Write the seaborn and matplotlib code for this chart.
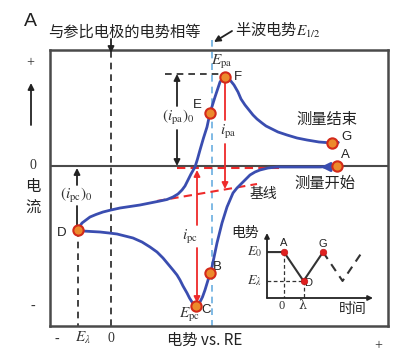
import matplotlib
matplotlib.use("Agg")
import matplotlib.pyplot as plt
import seaborn as sns

# forward (cathodic) scan A -> B -> C -> D
fwd_E = [2.26, 2.09, 1.89, 1.66, 1.57, 1.49, 1.44, 1.39, 1.35, 1.31, 1.26, 1.22, 1.19, 1.16, 1.11,
         1.06, 1.01, 0.94, 0.915, 0.89, 0.87, 0.85, 0.83, 0.81, 0.785, 0.76, 0.72, 0.69, 0.66, 0.62,
         0.57, 0.52, 0.46, 0.39, 0.31, 0.22, 0.14, 0.06, -0.02, -0.11, -0.20, -0.28, -0.33]
fwd_i = [0.0, -0.01, -0.01, -0.01, -0.02, -0.04, -0.06, -0.09, -0.13, -0.17, -0.22, -0.27, -0.34, -0.41, -0.57,
         -0.77, -1.01, -1.24, -1.31, -1.36, -1.39, -1.40, -1.39, -1.36, -1.32, -1.27, -1.20, -1.14, -1.09, -1.04,
         -0.98, -0.92, -0.86, -0.81, -0.76, -0.72, -0.70, -0.68, -0.67, -0.66, -0.655, -0.65, -0.64]
# reverse (anodic) scan D -> E -> F -> G
rev_E = [-0.33, -0.31, -0.29, -0.25, -0.21, -0.15, -0.08, 0.0, 0.09, 0.19, 0.29, 0.39, 0.49, 0.56, 0.62,
         0.67, 0.71, 0.74, 0.76, 0.78, 0.80, 0.84, 0.865, 0.89, 0.925, 0.96, 0.99, 1.04, 1.09, 1.12,
         1.14, 1.16, 1.19, 1.23, 1.27, 1.30, 1.34, 1.38, 1.42, 1.46, 1.51, 1.55, 1.59, 1.67, 1.76,
         1.86, 1.96, 2.08, 2.21]
rev_i = [-0.64, -0.60, -0.57, -0.54, -0.51, -0.485, -0.46, -0.44, -0.42, -0.405, -0.39, -0.37, -0.35, -0.335, -0.31,
         -0.28, -0.24, -0.20, -0.16, -0.12, -0.08, -0.01, 0.07, 0.16, 0.28, 0.39, 0.53, 0.69, 0.84, 0.88,
         0.89, 0.89, 0.86, 0.81, 0.74, 0.67, 0.61, 0.56, 0.51, 0.47, 0.43, 0.40, 0.38, 0.34, 0.31,
         0.28, 0.26, 0.24, 0.23]

pt_names = ["A", "B", "C", "D", "E", "F", "G"]
pt_E = [2.26, 0.99, 0.85, -0.33, 0.99, 1.14, 2.21]
pt_i = [0.0, -1.07, -1.40, -0.64, 0.53, 0.89, 0.23]

E_lambda = -0.33
E_half = 1.01
base_c_E = [0.66, 1.68]      # baseline for cathodic peak
base_c_i = [-0.02, -0.02]
base_a_E = [0.46, 1.46]      # baseline for anodic peak
base_a_i = [-0.35, -0.18]

# inset: potential waveform
wave_t = [-0.87, 0, 1, 2]
wave_E = [1, 1, 0, 1]
wave_next_t = [2, 3, 4]
wave_next_E = [1, 0, 1]
wave_pt_names = ["A", "D", "G"]
wave_pt_t = [0, 1, 2]
wave_pt_E = [1, 0, 1]

blue = "#3a4db0"
red = "#ee2a2a"
orange = "#ec8a2c"
lblue = "#6aaee0"
dark = "#4a4a4a"

sns.set_theme(style="white")
plt.rcParams["font.family"] = ["Noto Sans CJK SC", "DejaVu Sans"]
plt.rcParams["mathtext.fontset"] = "stix"

fig = plt.figure(figsize=(3.96, 3.58), dpi=100)
ax = fig.add_axes([50 / 396, 32 / 358, 338 / 396, 276 / 358])
ax.set_xlim(-0.61, 2.77)
ax.set_ylim(-1.60, 1.16)
ax.set_xticks([])
ax.set_yticks([])
for s in ax.spines.values():
    s.set_color(dark)
    s.set_linewidth(1.8)

ax.axhline(0, color=dark, lw=1.5, zorder=1)
ax.axvline(0, color="#222222", lw=1.2, ls=(0, (4, 3)), zorder=1)
ax.plot([E_lambda, E_lambda], [-0.64, -1.60], color="#222222", lw=1.2, ls=(0, (4, 3)), zorder=1)
ax.plot([E_half, E_half], [1.26, -1.60], color=lblue, lw=1.2, ls=(0, (4, 3)), zorder=1, clip_on=False)
ax.plot([0.54, 1.11], [0.92, 0.92], color="#222222", lw=1.2, ls=(0, (4, 3)), zorder=1)

ax.plot(base_c_E, base_c_i, color=red, lw=1.5, ls=(0, (4, 2.5)), zorder=2)
ax.plot(base_a_E, base_a_i, color=red, lw=1.5, ls=(0, (4, 2.5)), zorder=2)

sns.lineplot(x=fwd_E, y=fwd_i, sort=False, estimator=None, color=blue, lw=2, ax=ax, zorder=3)
sns.lineplot(x=rev_E, y=rev_i, sort=False, estimator=None, color=blue, lw=2, ax=ax, zorder=3)

arr = dict(arrowstyle="-|>", color=blue, lw=2, mutation_scale=13)
ax.annotate("", xy=(2.07, -0.01), xytext=(2.2, -0.01), arrowprops=arr, zorder=4)
ax.annotate("", xy=(2.33, 0.24), xytext=(2.2, 0.23), arrowprops=arr, zorder=4)

sns.scatterplot(x=pt_E, y=pt_i, s=55, color=orange, edgecolor="#d42a1a", linewidth=1.5, ax=ax, zorder=5)

# red current arrows
rarr = dict(arrowstyle="-|>", color=red, lw=1.3, mutation_scale=9, shrinkA=0, shrinkB=0)
ax.plot([1.14, 1.14], [0.86, 0.46], color=red, lw=1.3, zorder=2)
ax.annotate("", xy=(1.14, -0.23), xytext=(1.14, 0.22), arrowprops=rarr)
ax.annotate("", xy=(0.86, -0.04), xytext=(0.86, -0.59), arrowprops=rarr)
ax.annotate("", xy=(0.86, -1.37), xytext=(0.86, -0.82), arrowprops=rarr)

# black peak-current arrows
karr = dict(arrowstyle="-|>", color="#222222", lw=1.3, mutation_scale=9, shrinkA=0, shrinkB=0)
ax.annotate("", xy=(0.66, 0.92), xytext=(0.66, 0.60), arrowprops=karr)
ax.annotate("", xy=(0.66, 0.0), xytext=(0.66, 0.36), arrowprops=karr)
ax.annotate("", xy=(-0.34, -0.02), xytext=(-0.34, -0.19), arrowprops=karr)
ax.plot([-0.34, -0.34], [-0.40, -0.62], color="#222222", lw=1.3, zorder=2)

# point letters
lab = dict(family="Liberation Sans", fontsize=9.5, color="#222222", ha="center", va="center")
ax.text(2.34, 0.11, "A", **lab)
ax.text(1.06, -1.01, "B", **lab)
ax.text(0.95, -1.44, "C", **lab)
ax.text(-0.49, -0.67, "D", **lab)
ax.text(0.86, 0.61, "E", **lab)
ax.text(1.27, 0.89, "F", **lab)
ax.text(2.36, 0.29, "G", **lab)

mt = dict(fontsize=11, color="#333333", ha="center", va="center")
ax.text(1.11, 1.04, r"$E_{\mathrm{pa}}$", **mt)
ax.text(0.79, -1.49, r"$E_{\mathrm{pc}}$", **mt)
ax.text(0.67, 0.48, r"$(i_{\mathrm{pa}})_0$", **mt)
ax.text(-0.35, -0.30, r"$(i_{\mathrm{pc}})_0$", **mt)
ax.text(1.17, 0.34, r"$i_{\mathrm{pa}}$", **mt)
ax.text(0.79, -0.71, r"$i_{\mathrm{pc}}$", **mt)

cn = dict(fontsize=11, color="#222222", ha="center", va="center")
ax.text(2.16, 0.47, "测量结束", **cn)
ax.text(2.14, -0.17, "测量开始", **cn)
ax.text(1.52, -0.28, "基线", fontsize=10, color="#222222", ha="center", va="center")

# outside labels
ax.text(-0.81, 1.44, "A", family="Liberation Sans", fontsize=14, color="#222222",
        ha="center", va="center", clip_on=False)
ax.text(-0.63, 1.34, "与参比电极的电势相等", fontsize=11, color="#222222", ha="left", va="center")
ax.annotate("", xy=(0, 1.13), xytext=(0, 1.27), arrowprops=karr, annotation_clip=False)
ax.text(1.24, 1.36, r"半波电势$E_{1/2}$", fontsize=11, color="#222222", ha="left", va="center")
ax.annotate("", xy=(1.03, 1.24), xytext=(1.21, 1.35), arrowprops=karr, annotation_clip=False)

sr = dict(family="Liberation Serif", fontsize=10, color="#333333", ha="center", va="center")
ax.text(-0.81, 1.03, "+", **sr)
ax.text(-0.78, 0.0, "0", **sr)
ax.text(-0.78, -1.40, "-", **sr)
ax.text(-0.78, -0.31, "电\n流", fontsize=11, color="#222222", ha="center", va="center", linespacing=1.3)
ax.annotate("", xy=(-0.80, 0.83), xytext=(-0.80, 0.41), arrowprops=karr, annotation_clip=False)
ax.text(-0.54, -1.73, "-", **sr)
ax.text(-0.28, -1.72, r"$E_{\lambda}$", **mt)
ax.text(0.0, -1.72, "0", **sr)
ax.text(0.94, -1.74, "电势 vs. RE", fontsize=11, color="#222222", ha="center", va="center")
ax.text(2.67, -1.80, "+", **sr)

# inset waveform
ins = fig.add_axes([267 / 396, 1 - 298 / 358, 106 / 396, 65 / 358])
ins.set_xlim(-0.87, 4.56)
ins.set_ylim(-0.59, 1.66)
ins.set_xticks([])
ins.set_yticks([])
for s in ins.spines.values():
    s.set_visible(False)
ins.patch.set_alpha(0)
iarr = dict(arrowstyle="-|>", color="#222222", lw=1.3, mutation_scale=7, shrinkA=0, shrinkB=0)
ins.annotate("", xy=(0, 1), xytext=(0, 0), xycoords="axes fraction", arrowprops=iarr)
ins.annotate("", xy=(1, 0), xytext=(0, 0), xycoords="axes fraction", arrowprops=iarr)
sns.lineplot(x=wave_t, y=wave_E, sort=False, estimator=None, color="#333333", lw=1.5, ax=ins)
ins.plot(wave_next_t, wave_next_E, color="#333333", lw=1.5, ls=(0, (4, 3)))
ins.plot([0, 0], [1, -0.59], color="#333333", lw=0.9, ls=(0, (3, 2)))
ins.plot([1, 1], [0, -0.59], color="#333333", lw=0.9, ls=(0, (3, 2)))
ins.plot([-0.87, 1], [0, 0], color="#333333", lw=0.9, ls=(0, (3, 2)))
sns.scatterplot(x=wave_pt_t, y=wave_pt_E, s=22, color="#e02020", edgecolor="#c01818", linewidth=0.5,
                ax=ins, zorder=5)
il = dict(family="Liberation Sans", fontsize=8, color="#222222", ha="center", va="center")
ins.text(0, 1.31, "A", **il)
ins.text(1.25, -0.07, "D", **il)
ins.text(2.0, 1.28, "G", **il)
it = dict(fontsize=10, color="#333333", ha="center", va="center")
ins.text(-1.5, 1.0, r"$E_0$", **it)
ins.text(-1.5, 0.0, r"$E_{\lambda}$", **it)
ins.text(-0.1, -0.86, "0", family="Liberation Serif", fontsize=9, color="#333333", ha="center", va="center")
ins.text(0.92, -0.86, "λ", family="DejaVu Serif", fontsize=9, color="#333333", ha="center", va="center")
ins.text(-2.0, 1.66, "电势", fontsize=10, color="#222222", ha="center", va="center")
ins.text(3.5, -0.97, "时间", fontsize=10, color="#222222", ha="center", va="center")

fig.savefig("out.png", dpi=100)
